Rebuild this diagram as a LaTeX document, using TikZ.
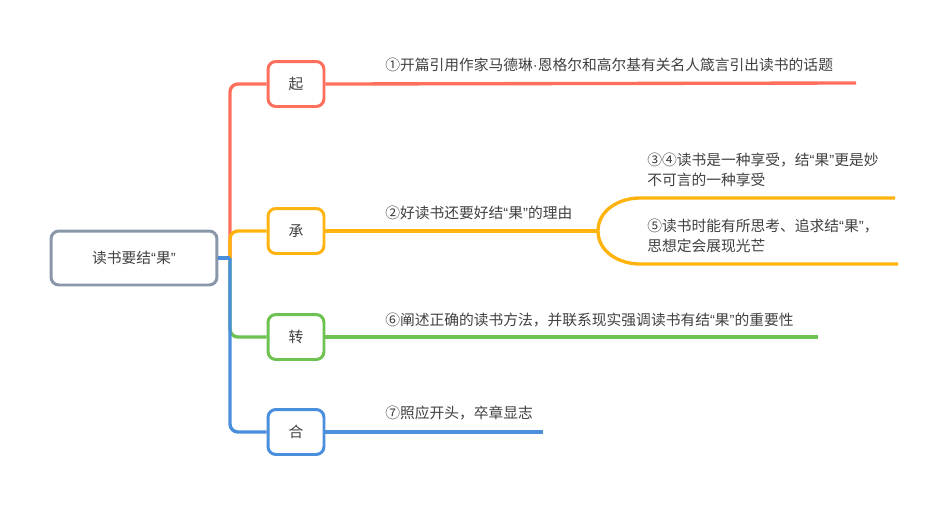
\documentclass[tikz,border=0pt]{standalone}
\usepackage{fontspec}
\newfontfamily\cjk{Noto Sans CJK SC}
\newfontfamily\qtfont{Liberation Sans}
\newcommand{\guo}{{\qtfont“}果{\qtfont”}}

\definecolor{qired}{HTML}{FF6F5B}
\definecolor{chengyel}{HTML}{FFB30F}
\definecolor{zhuangreen}{HTML}{6DC251}
\definecolor{heblue}{HTML}{4A8FDC}
\definecolor{rootgray}{HTML}{8A97A9}
\definecolor{txtgray}{HTML}{404040}

\tikzset{
  box/.style={draw, line width=1.7pt, rounded corners=4.5pt, fill=white,
    minimum width=1.12cm, minimum height=0.9cm, text=txtgray},
  leaf/.style={anchor=west, text=txtgray, align=left, inner sep=0pt},
  ln/.style={line width=1.9pt},
}

\begin{document}
\begin{tikzpicture}[x=0.02cm, y=-0.02cm, font=\cjk\fontsize{8.4}{11.3}\selectfont]
  \useasboundingbox (0,0) rectangle (948,505);

  % connectors behind the boxes
  \coordinate (hub) at (230,258);
  \coordinate (qiend) at (856,83);
  \coordinate (fork) at (598,231);
  \coordinate (upend) at (895,198);
  \coordinate (downend) at (898,264);
  \coordinate (zhuanend) at (818,337);
  \coordinate (heend) at (543,432);

  \node [box, draw=rootgray, minimum width=3.32cm, minimum height=1.08cm](root) at (134,258) {读书要结\guo};
  \node [box, draw=qired](qi) at (296,84) {起};
  \node [box, draw=chengyel](cheng) at (296,231) {承};
  \node [box, draw=zhuangreen](zhuan) at (296,337) {转};
  \node [box, draw=heblue](he) at (296,432) {合};

  \draw [ln, qired, rounded corners=4.5pt] (hub) |- (qi.west);
  \draw [ln, chengyel, rounded corners=4.5pt] (hub) |- (cheng.west);
  \draw [ln, zhuangreen, rounded corners=4.5pt] (hub) |- (zhuan.west);
  \draw [ln, heblue, rounded corners=4.5pt] (hub) |- (he.west);
  \draw [ln, heblue] (root.east) -- (hub);

  \draw [ln, qired] (qi.east) -- (qiend);
  \draw [ln, chengyel] (cheng.east) -- (fork);
  \draw [ln, chengyel] (fork) to[out=-90, in=180] (640,264) -- (downend);
  \draw [ln, chengyel] (fork) to[out=90, in=180] (640,198) -- (upend);
  \draw [ln, zhuangreen] (zhuan.east) -- (zhuanend);
  \draw [ln, heblue] (he.east) -- (heend);

  % leaf texts
  \node [leaf](t1) at (385,65) {①开篇引用作家马德琳{\qtfont ·}恩格尔和高尔基有关名人箴言引出读书的话题};
  \node [leaf](t2) at (385,213) {②好读书还要好结\guo 的理由};
  \node [leaf](t34) at (647,170) {③④读书是一种享受，结\guo 更是妙\\不可言的一种享受};
  \node [leaf](t5) at (647,236) {⑤读书时能有所思考、追求结\guo ，\\思想定会展现光芒};
  \node [leaf](t6) at (385,320) {⑥阐述正确的读书方法，并联系现实强调读书有结\guo 的重要性};
  \node [leaf](t7) at (385,413) {⑦照应开头，卒章显志};
\end{tikzpicture}
\end{document}
